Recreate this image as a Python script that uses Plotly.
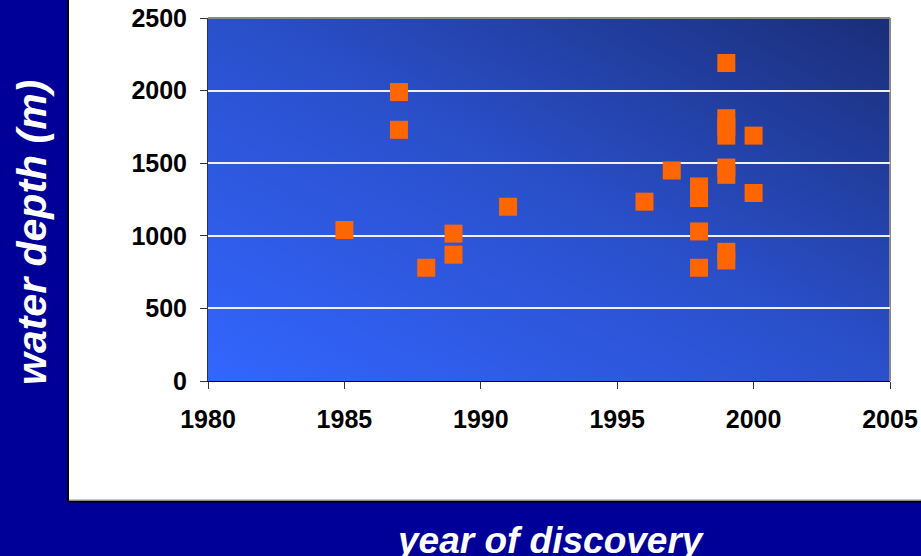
import base64
import plotly.graph_objects as go

# ---- data ----
years = [1985, 1987, 1987, 1988, 1989, 1989, 1991, 1996, 1997, 1998, 1998, 1998, 1998,
         1999, 1999, 1999, 1999, 1999, 1999, 1999, 1999, 2000, 2000]
depths = [1040, 1990, 1730, 780, 1015, 870, 1200, 1235, 1450, 1340, 1260, 1030, 780,
          2190, 1810, 1750, 1690, 1470, 1420, 890, 830, 1690, 1295]
x_ticks = [1980, 1985, 1990, 1995, 2000, 2005]
y_ticks = [0, 500, 1000, 1500, 2000, 2500]
x_title = "year of discovery"
y_title = "water depth (m)"

W, H = 921, 556
ML, MR, MT, MB = 208, 31, 18, 175
PW, PH = W - ML - MR, H - MT - MB


def px_x(p):
    return (p - ML) / PW


def px_y(p):
    return (H - MB - p) / PH


NAVY = "#000099"
FONT = "Liberation Sans, Arial, sans-serif"

grad_svg = (
    '<svg xmlns="http://www.w3.org/2000/svg" width="682" height="363" viewBox="0 0 682 363" '
    'preserveAspectRatio="none">'
    '<defs><linearGradient id="g" x1="0" y1="1" x2="1" y2="0">'
    '<stop offset="0" stop-color="#3366ff"/>'
    '<stop offset="0.5" stop-color="#2a50cc"/>'
    '<stop offset="1" stop-color="#1a2e78"/>'
    '</linearGradient></defs>'
    '<rect x="0" y="0" width="682" height="363" fill="url(#g)"/></svg>'
)
grad_src = "data:image/svg+xml;base64," + base64.b64encode(grad_svg.encode()).decode()

fig = go.Figure()
fig.add_trace(go.Scatter(
    x=years, y=depths, mode="markers",
    marker=dict(symbol="square", size=18, color="#ff6600", line=dict(width=0)),
    hoverinfo="x+y", showlegend=False,
))

shapes = [
    # navy strips around the white panel
    dict(type="rect", xref="paper", yref="paper", x0=px_x(-5), x1=px_x(68), y0=px_y(H + 5), y1=px_y(-5),
         fillcolor=NAVY, line=dict(width=0), layer="below"),
    dict(type="rect", xref="paper", yref="paper", x0=px_x(-5), x1=px_x(W + 5), y0=px_y(H + 5), y1=px_y(502),
         fillcolor=NAVY, line=dict(width=0), layer="below"),
    # black border of the white panel
    dict(type="line", xref="paper", yref="paper", x0=px_x(68), x1=px_x(68), y0=px_y(502), y1=px_y(-5),
         line=dict(color="black", width=2), layer="below"),
    dict(type="line", xref="paper", yref="paper", x0=px_x(67), x1=px_x(W + 5), y0=px_y(501.5), y1=px_y(501.5),
         line=dict(color="black", width=2), layer="below"),
    dict(type="line", xref="paper", yref="paper", x0=px_x(69), x1=px_x(W + 5), y0=px_y(500), y1=px_y(500),
         line=dict(color="#999999", width=1), layer="below"),
    # gray frame top / right of plot area
    dict(type="line", xref="paper", yref="paper", x0=0, x1=1, y0=1, y1=1,
         line=dict(color="#888888", width=2), layer="below"),
    dict(type="line", xref="paper", yref="paper", x0=1, x1=1, y0=0, y1=1,
         line=dict(color="#888888", width=2), layer="below"),
]

fig.update_layout(
    width=W, height=H,
    margin=dict(l=ML, r=MR, t=MT, b=MB, pad=0, autoexpand=False),
    paper_bgcolor="white",
    plot_bgcolor="rgba(0,0,0,0)",
    images=[dict(source=grad_src, xref="paper", yref="paper", x=0, y=1, sizex=1, sizey=1,
                 xanchor="left", yanchor="top", sizing="stretch", layer="below")],
    shapes=shapes,
    xaxis=dict(
        range=[1980, 2005], tickvals=x_ticks, ticktext=[str(v) for v in x_ticks],
        showgrid=False, zeroline=False, showline=True, linecolor="black", linewidth=1,
        ticks="outside", ticklen=7, tickcolor="#333333", tickwidth=1,
        tickfont=dict(family=FONT, size=25, color="black", weight="bold"),
        ticklabelstandoff=9, automargin=False,
    ),
    yaxis=dict(
        range=[0, 2500], tickvals=y_ticks, ticktext=[str(v) for v in y_ticks],
        showgrid=True, gridcolor="#f0f0f0", gridwidth=1.5, zeroline=False,
        showline=True, linecolor="#333333", linewidth=1,
        ticks="outside", ticklen=7, tickcolor="#333333", tickwidth=1,
        tickfont=dict(family=FONT, size=25, color="black", weight="bold"),
        ticklabelstandoff=8, automargin=False,
    ),
    annotations=[
        dict(text="<b><i>" + y_title + "</i></b>", xref="paper", yref="paper",
             x=px_x(32), y=px_y(233), xanchor="center", yanchor="middle", textangle=-90,
             showarrow=False, font=dict(family=FONT, size=41, color="white")),
        dict(text="<b><i>" + x_title + "</i></b>", xref="paper", yref="paper",
             x=px_x(550), y=px_y(540), xanchor="center", yanchor="middle",
             showarrow=False, font=dict(family=FONT, size=37, color="white")),
    ],
)

fig.write_html(
    "out.html",
    config={"displayModeBar": False},
    post_script="document.body.style.margin='0';document.body.style.overflow='hidden';"
                "document.documentElement.style.overflow='hidden';",
)
